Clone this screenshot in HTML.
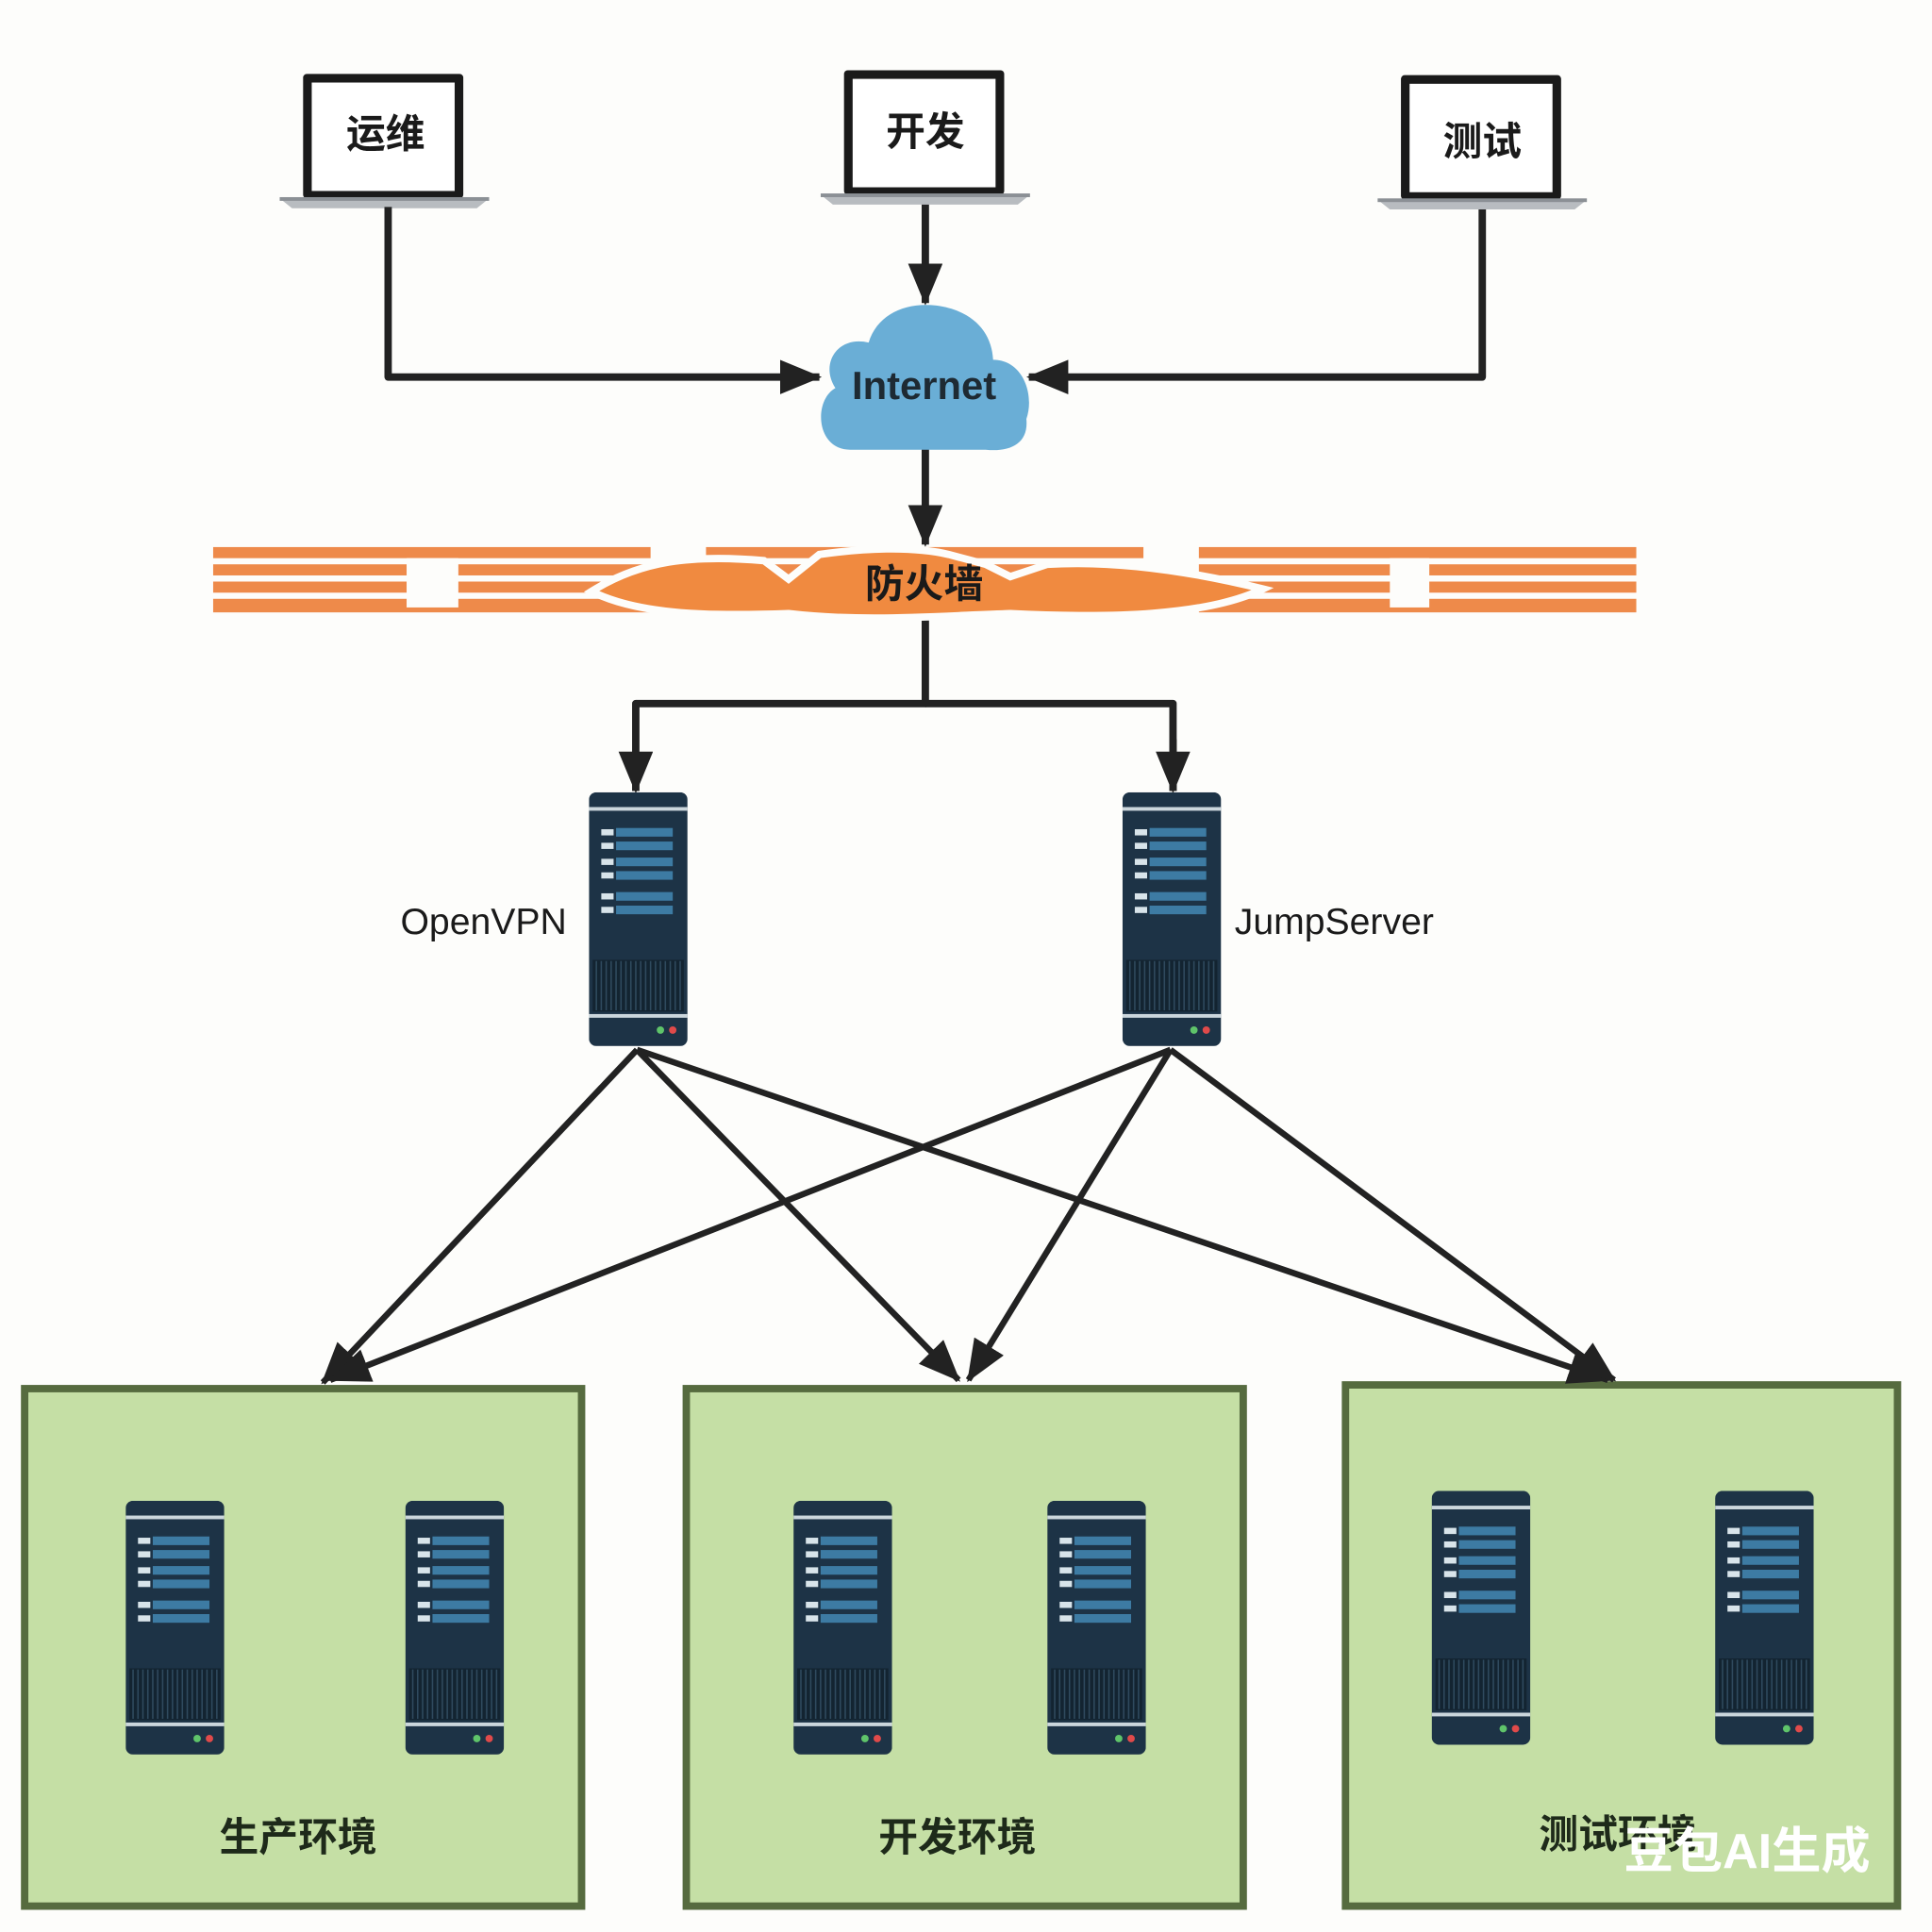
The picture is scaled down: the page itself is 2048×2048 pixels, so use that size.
<!DOCTYPE html>
<html><head><meta charset="utf-8"><style>
html,body{margin:0;padding:0;background:#fdfdfb;}
svg{display:block;}
text{font-family:"Liberation Sans","Noto Sans CJK SC",sans-serif;}
</style></head><body>
<svg width="2048" height="2048" viewBox="0 0 1568 1568" xmlns="http://www.w3.org/2000/svg">
<defs>
<marker id="ah" markerUnits="userSpaceOnUse" markerWidth="34" markerHeight="28" refX="32" refY="14" orient="auto">
<path d="M0,0 L34,14 L0,28 Z" fill="#222"/>
</marker>
<symbol id="srv" viewBox="0 0 80 206" width="80" height="206">
<rect x="0" y="0" width="80" height="206" rx="6" fill="#1d3346"/>
<rect x="0" y="12" width="80" height="3" fill="#cbd6dc"/>
<g fill="#d8e4ea"><rect x="10" y="30" width="10" height="5"/><rect x="10" y="41" width="10" height="5"/><rect x="10" y="54" width="10" height="5"/><rect x="10" y="65" width="10" height="5"/><rect x="10" y="82" width="10" height="5"/><rect x="10" y="93" width="10" height="5"/></g>
<g fill="#3d7ba3"><rect x="22" y="29" width="46" height="7"/><rect x="22" y="40" width="46" height="7"/><rect x="22" y="53" width="46" height="7"/><rect x="22" y="64" width="46" height="7"/><rect x="22" y="81" width="46" height="7"/><rect x="22" y="92" width="46" height="7"/></g>
<rect x="3" y="136" width="74" height="42" fill="#132431"/>
<g stroke="#2f4a5e" stroke-width="1.2">
<line x1="6" y1="137" x2="6" y2="177"/><line x1="10" y1="137" x2="10" y2="177"/><line x1="14" y1="137" x2="14" y2="177"/><line x1="18" y1="137" x2="18" y2="177"/><line x1="22" y1="137" x2="22" y2="177"/><line x1="26" y1="137" x2="26" y2="177"/><line x1="30" y1="137" x2="30" y2="177"/><line x1="34" y1="137" x2="34" y2="177"/><line x1="38" y1="137" x2="38" y2="177"/><line x1="42" y1="137" x2="42" y2="177"/><line x1="46" y1="137" x2="46" y2="177"/><line x1="50" y1="137" x2="50" y2="177"/><line x1="54" y1="137" x2="54" y2="177"/><line x1="58" y1="137" x2="58" y2="177"/><line x1="62" y1="137" x2="62" y2="177"/><line x1="66" y1="137" x2="66" y2="177"/><line x1="70" y1="137" x2="70" y2="177"/><line x1="74" y1="137" x2="74" y2="177"/>
</g>
<rect x="0" y="180" width="80" height="3" fill="#cbd6dc"/>
<circle cx="58" cy="193" r="3" fill="#5fc46a"/><circle cx="68" cy="193" r="3" fill="#e04a4a"/>
</symbol>
<symbol id="lap" viewBox="0 0 170 112" width="170" height="112">
<rect x="19" y="1" width="130" height="101" rx="3" fill="#1a1a1a"/>
<rect x="26" y="8" width="116" height="88" fill="#ffffff"/>
<path d="M0,102 L170,102 L160,110 L10,110 Z" fill="#b8bcc0"/>
<rect x="0" y="101" width="170" height="3" fill="#8b9095"/>
</symbol>
</defs>

<!-- laptops -->
<use href="#lap" x="227" y="59"/>
<use href="#lap" x="666" y="56"/>
<use href="#lap" x="1118" y="60"/>
<g font-size="32" font-weight="bold" fill="#1a1a1a" text-anchor="middle">
<text x="313" y="120">运维</text>
<text x="751" y="118">开发</text>
<text x="1203" y="126">测试</text>
</g>

<!-- connectors top -->
<g stroke="#222" stroke-width="6" fill="none" stroke-linejoin="round">
<polyline points="315,168 315,306 665,306" marker-end="url(#ah)"/>
<polyline points="751,166 751,246" marker-end="url(#ah)"/>
<polyline points="1203,170 1203,306 835,306" marker-end="url(#ah)"/>
<polyline points="751,364 751,442" marker-end="url(#ah)"/>
<polyline points="751,500 751,571 516,571 516,642" marker-end="url(#ah)"/>
<polyline points="751,571 952,571 952,642"/>
<polyline points="952,600 952,642" marker-end="url(#ah)"/>
</g>

<!-- cloud -->
<path d="M690,365 C662,365 660,325 678,315 C665,295 680,272 705,278 C712,255 735,245 760,248 C790,252 805,270 806,292 C830,292 840,320 833,340 C835,360 820,367 800,365 Z" fill="#6aaed6"/>
<text x="750" y="324" font-size="32" font-weight="bold" fill="#1e2a33" text-anchor="middle">Internet</text>

<!-- firewall -->
<g fill="#ee8a4a">
<rect x="173" y="444" width="355" height="9"/><rect x="173" y="458" width="355" height="9"/><rect x="173" y="472" width="355" height="9"/><rect x="173" y="486" width="355" height="11"/>
<rect x="573" y="444" width="355" height="9"/><rect x="573" y="458" width="355" height="9"/><rect x="573" y="472" width="355" height="9"/><rect x="573" y="486" width="355" height="11"/>
<rect x="973" y="444" width="355" height="9"/><rect x="973" y="458" width="355" height="9"/><rect x="973" y="472" width="355" height="9"/><rect x="973" y="486" width="355" height="11"/>
</g>
<g fill="#fdfdfb">
<rect x="330" y="453" width="42" height="40"/>
<rect x="1128" y="453" width="32" height="40"/>
</g>
<path d="M480,480 C520,455 560,450 620,455 L640,470 L665,450 C700,445 740,443 770,450 L800,458 L820,468 L850,458 C900,455 960,462 1025,478 C980,500 900,502 820,498 C760,500 700,505 640,498 C580,500 520,500 480,480 Z" fill="#f08a40" stroke="#fdfdfb" stroke-width="6"/>
<text x="750" y="485" font-size="32" font-weight="bold" fill="#1a1a1a" text-anchor="middle">防火墙</text>

<!-- gateway servers -->
<use href="#srv" x="478" y="643"/>
<use href="#srv" x="911" y="643"/>
<text x="460" y="758" font-size="30" fill="#1a1a1a" text-anchor="end">OpenVPN</text>
<text x="1002" y="758" font-size="30" fill="#1a1a1a">JumpServer</text>

<!-- environment boxes -->
<g fill="#c5dfa5" stroke="#566b3f" stroke-width="6">
<rect x="20" y="1127" width="452" height="420"/>
<rect x="557" y="1127" width="452" height="420"/>
<rect x="1092" y="1124" width="448" height="423"/>
</g>

<!-- diagonal connectors -->
<g stroke="#222" stroke-width="5" fill="none">
<line x1="517" y1="852" x2="262" y2="1122" marker-end="url(#ah)"/>
<line x1="517" y1="852" x2="778" y2="1120" marker-end="url(#ah)"/>
<line x1="517" y1="852" x2="1305" y2="1120" marker-end="url(#ah)"/>
<line x1="950" y1="852" x2="268" y2="1120" marker-end="url(#ah)"/>
<line x1="950" y1="852" x2="786" y2="1120" marker-end="url(#ah)"/>
<line x1="950" y1="852" x2="1310" y2="1120" marker-end="url(#ah)"/>
</g>

<!-- env servers -->
<use href="#srv" x="102" y="1218"/>
<use href="#srv" x="329" y="1218"/>
<use href="#srv" x="644" y="1218"/>
<use href="#srv" x="850" y="1218"/>
<use href="#srv" x="1162" y="1210"/>
<use href="#srv" x="1392" y="1210"/>

<g font-size="32" font-weight="bold" fill="#1e2a1a" text-anchor="middle">
<text x="242" y="1502">生产环境</text>
<text x="777" y="1502">开发环境</text>
<text x="1313" y="1500">测试环境</text>
</g>
<text x="1418" y="1516" font-size="40" font-weight="bold" fill="#ffffff" text-anchor="middle">豆包AI生成</text>
</svg>
</body></html>
